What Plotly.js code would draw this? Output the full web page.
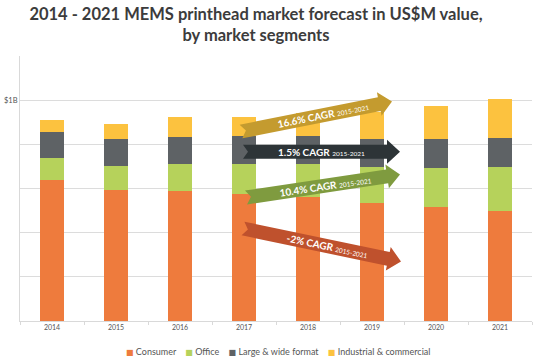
<!DOCTYPE html>
<html>
<head>
<meta charset="utf-8">
<script src="https://cdn.plot.ly/plotly-3.0.1.min.js"></script>
<style>html,body{margin:0;padding:0;background:#fff;}#chart{width:537px;height:361px;}</style>
</head>
<body>
<div id="chart"></div>
<script>
// ---- data (US$M) ----
const years = ['2014', '2015', '2016', '2017', '2018', '2019', '2020', '2021'];
const seriesNames = ['Consumer', 'Office', 'Large & wide format', 'Industrial & commercial'];
const consumer = [638, 591, 589, 575, 563, 533, 515, 497];
const office = [100, 111, 124, 138, 150, 165, 180, 201];
const largeWide = [118, 120, 120, 125, 125, 125, 131, 131];
const industrial = [53, 70, 90, 87, 105, 125, 147, 176];
const yTickVals = [0, 200, 400, 600, 800, 1000, 1200];
const yTickText = ['', '', '', '', '', '$1B', ''];
const cagrValues = ['16.6%', '1.5%', '10.4%', '-2%'];
const cagrPeriod = '2015-2021';

// ---- style ----
const colors = ['#EE7B3D', '#B6D25B', '#5E6265', '#FCC23F'];
const arrowColors = ['#C49B2F', '#2D3437', '#7F9B3F', '#BF512D'];
const FONT = 'Lato, "Open Sans", sans-serif';

const M = {l: 20, r: 5, t: 56, b: 40};
const W = 537, H = 361;
const PW = W - M.l - M.r, PH = H - M.t - M.b;
const toPx = x => (x - M.l) / PW;
const toPy = y => (H - M.b - y) / PH;

const valuesList = [consumer, office, largeWide, industrial];
const traces = valuesList.map((vals, i) => ({
  type: 'bar',
  name: seriesNames[i],
  x: years,
  y: vals,
  marker: {color: colors[i], line: {width: 0}},
  hoverinfo: 'skip'
}));

// arrow geometry in pixel space (tail, tip)
const arrowGeo = [
  {t: [241, 131.5], p: [392, 101.5]},
  {t: [243, 151.7], p: [400, 151.7]},
  {t: [246, 197.5], p: [400, 174.5]},
  {t: [243, 228.5], p: [401, 261.5]}
];
const halfW = 7, headHalf = 12, headLen = 13, notch = 5;

function arrowPath(g) {
  const [tx, ty] = g.t, [px, py] = g.p;
  const dx = px - tx, dy = py - ty, L = Math.hypot(dx, dy);
  const ux = dx / L, uy = dy / L, nx = -uy, ny = ux;
  const bx = px - ux * headLen, by = py - uy * headLen;
  const pts = [
    [tx + nx * halfW, ty + ny * halfW],
    [bx + nx * halfW, by + ny * halfW],
    [bx + nx * headHalf, by + ny * headHalf],
    [px, py],
    [bx - nx * headHalf, by - ny * headHalf],
    [bx - nx * halfW, by - ny * halfW],
    [tx - nx * halfW, ty - ny * halfW],
    [tx + ux * notch, ty + uy * notch]
  ];
  return 'M' + pts.map(p => toPx(p[0]).toFixed(5) + ',' + toPy(p[1]).toFixed(5)).join('L') + 'Z';
}

const shapes = arrowGeo.map((g, i) => ({
  type: 'path', xref: 'paper', yref: 'paper',
  path: arrowPath(g), fillcolor: arrowColors[i], line: {width: 0}, layer: 'above'
}));

const textCenterX = [323, 321, 325, 327];
const annotations = arrowGeo.map((g, i) => {
  const [tx, ty] = g.t, [px, py] = g.p;
  const cx = textCenterX[i];
  const cy = ty + (cx - tx) / (px - tx) * (py - ty);
  const ang = Math.atan2(py - ty, px - tx) * 180 / Math.PI;
  return {
    xref: 'paper', yref: 'paper', x: toPx(cx), y: toPy(cy),
    xanchor: 'center', yanchor: 'middle', showarrow: false,
    textangle: ang,
    text: '<b>' + cagrValues[i] + ' CAGR</b> <span style="font-size:6.5px">' + cagrPeriod + '</span>',
    font: {family: FONT, size: 10, color: '#ffffff'}
  };
});

// compact legend built from the series names and colours
const legendText = seriesNames.map((n, i) =>
  '<span style="color:' + colors[i] + ';font-family:DejaVu Sans;font-size:8px">■</span> ' + n
).join('    ');
annotations.push({
  xref: 'paper', yref: 'paper', x: toPx(278), y: toPy(351),
  xanchor: 'center', yanchor: 'middle', showarrow: false,
  text: legendText,
  font: {family: FONT, size: 9, color: '#555555'}
});

const layout = {
  width: W, height: H,
  margin: M,
  paper_bgcolor: '#ffffff', plot_bgcolor: '#ffffff',
  font: {family: FONT, color: '#555555'},
  title: {
    text: '2014 - 2021 MEMS printhead market forecast in US$M value,<br>by market segments',
    font: {family: FONT, size: 16.5, color: '#3c3c3c', weight: 'bold'},
    x: 256 / W, xref: 'container', xanchor: 'center',
    y: 1 - 20 / H, yref: 'container', yanchor: 'middle'
  },
  barmode: 'stack',
  bargap: 0.61,
  showlegend: false,
  xaxis: {
    type: 'category',
    showgrid: false,
    showline: true, linecolor: '#d9d9d9', linewidth: 1,
    ticks: 'outside', tickson: 'boundaries', ticklen: 3, tickcolor: '#d9d9d9',
    tickfont: {family: FONT, size: 7, color: '#555555'},
    zeroline: false, fixedrange: true
  },
  yaxis: {
    range: [0, 1200],
    tickvals: yTickVals, ticktext: yTickText,
    showgrid: true, gridcolor: '#dcdcdc', gridwidth: 1,
    showline: true, linecolor: '#d9d9d9', linewidth: 1,
    zeroline: false, ticks: '',
    tickfont: {family: FONT, size: 7.5, color: '#555555'},
    fixedrange: true
  },
  shapes: shapes,
  annotations: annotations
};

Plotly.newPlot('chart', traces, layout, {staticPlot: true, displayModeBar: false});
</script>
</body>
</html>
